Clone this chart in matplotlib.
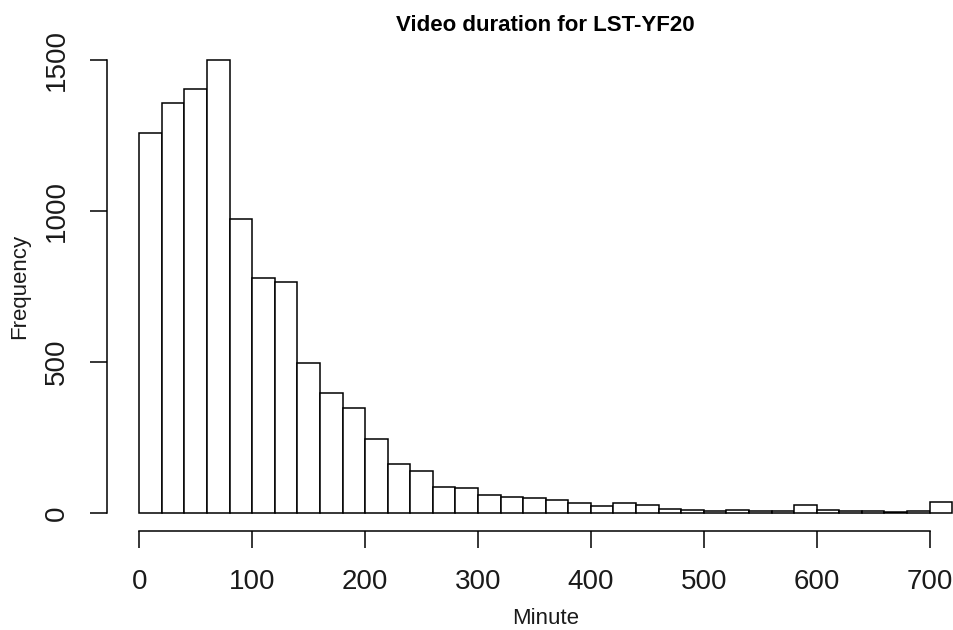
import matplotlib
matplotlib.use("Agg")
import matplotlib.pyplot as plt
import numpy as np

plt.rcParams['font.family'] = ['Liberation Sans', 'DejaVu Sans']

bin_width = 20
bin_left = list(range(0, 720, 20))
counts = [1259, 1357, 1403, 1500, 973, 779, 765, 498, 398, 348, 245, 161,
          138, 87, 82, 60, 54, 49, 43, 32, 23, 34, 28, 12,
          10, 5, 10, 8, 6, 25, 9, 8, 6, 4, 8, 36]
x_ticks = [0, 100, 200, 300, 400, 500, 600, 700]
y_ticks = [0, 500, 1000, 1500]

W, H = 954, 630
fig = plt.figure(figsize=(W / 100, H / 100), dpi=100)
left_px, right_px, top_px, bot_px = 106.8, 984.7, 41.9, 531.1
ax = fig.add_axes([left_px / W, 1 - bot_px / H, (right_px - left_px) / W, (bot_px - top_px) / H])

ax.bar(bin_left, counts, width=bin_width, align='edge', facecolor='white',
       edgecolor='black', linewidth=1.1)

ax.set_xlim(-28.8, 748.8)
ax.set_ylim(-60, 1560)

for s in ['top', 'right']:
    ax.spines[s].set_visible(False)
ax.spines['left'].set_bounds(0, 1500)
ax.spines['bottom'].set_bounds(0, 700)
ax.spines['left'].set_linewidth(1.1)
ax.spines['bottom'].set_linewidth(1.1)

ax.set_xticks(x_ticks)
ax.set_yticks(y_ticks)
ax.tick_params(axis='both', length=12.5, width=1.1, labelsize=20, colors='black',
               labelcolor='#1a1a1a')
ax.tick_params(axis='x', pad=15)
ax.tick_params(axis='y', pad=14)
for lbl in ax.get_yticklabels():
    lbl.set_rotation(90)
    lbl.set_va('center')

ax.set_xlabel('Minute', fontsize=16, labelpad=9, color='#1a1a1a')
ax.set_ylabel('Frequency', fontsize=16, labelpad=10, color='#1a1a1a')
ax.set_title('Video duration for LST-YF20', fontsize=16, fontweight='bold', pad=8)

fig.savefig('out.png', dpi=100)
